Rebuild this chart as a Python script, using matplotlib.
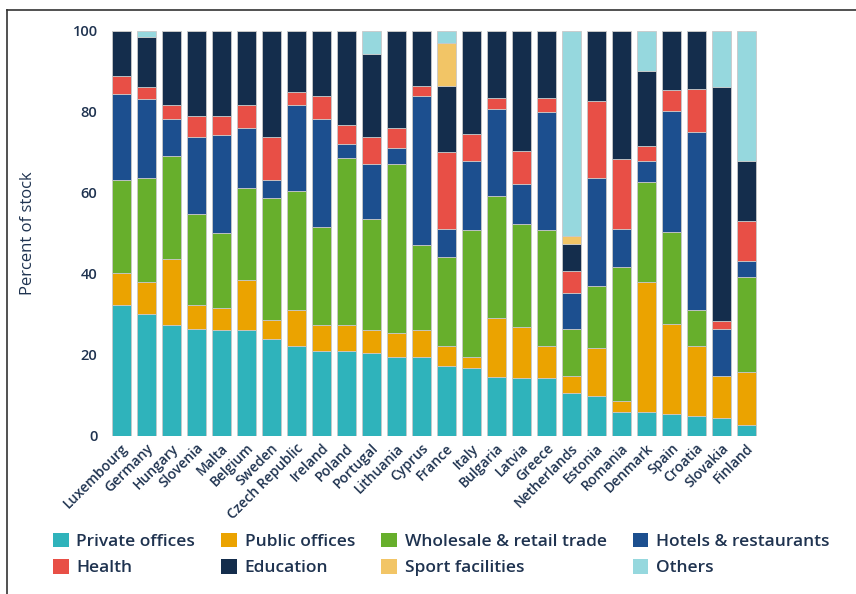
import numpy as np
import matplotlib
matplotlib.use("Agg")
import matplotlib.pyplot as plt
from matplotlib.patches import Patch
from matplotlib.lines import Line2D

plt.rcParams['font.family'] = ['Open Sans', 'DejaVu Sans']
plt.rcParams['font.weight'] = 'semibold'

countries = ['Luxembourg', 'Germany', 'Hungary', 'Slovenia', 'Malta', 'Belgium', 'Sweden',
             'Czech Republic', 'Ireland', 'Poland', 'Portugal', 'Lithuania', 'Cyprus', 'France',
             'Italy', 'Bulgaria', 'Latvia', 'Greece', 'Netherlands', 'Estonia', 'Romania',
             'Denmark', 'Spain', 'Croatia', 'Slovakia', 'Finland']

private_offices = [32.2, 29.9, 27.4, 26.4, 26.0, 26.0, 23.9, 22.1, 20.8, 20.8, 20.3, 19.3, 19.3,
                   17.1, 16.7, 14.5, 14.1, 14.1, 10.6, 9.8, 5.7, 5.7, 5.2, 4.9, 4.4, 2.6]
public_offices = [8.0, 8.1, 16.3, 5.9, 5.5, 12.5, 4.5, 8.8, 6.6, 6.6, 5.8, 5.9, 6.8,
                  5.0, 2.8, 14.4, 12.8, 8.0, 4.1, 11.8, 2.8, 32.1, 22.3, 17.2, 10.3, 13.1]
wholesale_retail = [22.8, 25.7, 25.3, 22.4, 18.4, 22.7, 30.3, 29.5, 24.2, 41.1, 27.3, 41.8, 21.0,
                    22.0, 31.2, 30.3, 25.2, 28.6, 11.7, 15.4, 33.0, 24.8, 22.8, 8.8, 0.0, 23.5]
hotels_restaurants = [21.3, 19.3, 9.1, 19.0, 24.3, 14.7, 4.3, 21.2, 26.5, 3.4, 13.6, 4.1, 36.8,
                      7.0, 17.1, 21.5, 9.9, 29.1, 8.8, 26.5, 9.6, 5.1, 29.9, 44.1, 11.7, 4.0]
health = [4.5, 3.1, 3.6, 5.2, 4.7, 5.7, 10.6, 3.1, 5.8, 4.8, 6.6, 4.8, 2.5,
          18.9, 6.7, 2.7, 8.2, 3.6, 5.5, 19.0, 17.1, 3.9, 5.0, 10.6, 1.9, 9.8]
education = [11.2, 12.3, 18.3, 21.1, 21.1, 18.4, 26.4, 15.3, 16.1, 23.3, 20.5, 24.1, 13.6,
             16.4, 25.5, 16.6, 29.8, 16.6, 6.6, 17.5, 31.8, 18.5, 14.8, 14.4, 57.8, 14.7]
sport_facilities = [0, 0, 0, 0, 0, 0, 0, 0, 0, 0, 0, 0, 0,
                    10.6, 0, 0, 0, 0, 2.0, 0, 0, 0, 0, 0, 0, 0]
others = [0, 1.6, 0, 0, 0, 0, 0, 0, 0, 0, 5.9, 0, 0,
          3.0, 0, 0, 0, 0, 50.7, 0, 0, 9.9, 0, 0, 13.9, 32.3]

series = [
    ("Private offices", private_offices, "#2fb3bb"),
    ("Public offices", public_offices, "#eba300"),
    ("Wholesale & retail trade", wholesale_retail, "#67af2c"),
    ("Hotels & restaurants", hotels_restaurants, "#1c4f8f"),
    ("Health", health, "#e84f46"),
    ("Education", education, "#142d4c"),
    ("Sport facilities", sport_facilities, "#f2c566"),
    ("Others", others, "#96d8de"),
]

text_col = "#1f3350"

fig = plt.figure(figsize=(8.56, 5.94), dpi=100)
ax = fig.add_axes([108.7 / 856, 158.5 / 594, 650 / 856, 405 / 594])

x = np.arange(len(countries))
bottom = np.zeros(len(countries))
for name, vals, col in series:
    vals = np.array(vals)
    ax.bar(x, vals, bottom=bottom, width=0.76, color=col, edgecolor="#c8c8c8",
           linewidth=0.6, label=name)
    bottom += vals

ax.set_xlim(-0.5, len(countries) - 0.5)
ax.set_ylim(0, 100)
ax.set_yticks([0, 20, 40, 60, 80, 100])
ax.set_xticks(x)
ax.set_xticklabels(countries, rotation=45, ha="right", rotation_mode="anchor",
                   fontsize=10, color=text_col)
ax.tick_params(axis="both", length=0, colors=text_col)
ax.tick_params(axis="y", labelsize=10.5, pad=8)
ax.tick_params(axis="x", pad=4)
for s in ax.spines.values():
    s.set_visible(False)
ax.set_ylabel("Percent of stock", fontsize=12, color=text_col, labelpad=26)

# legend in the reference's row order
handles = {name: Patch(facecolor=col, edgecolor="none") for name, _, col in series}
order = ["Private offices", "Health", "Public offices", "Education",
         "Wholesale & retail trade", "Sport facilities", "Hotels & restaurants", "Others"]
fig.legend([handles[n] for n in order], order, ncol=4, frameon=False,
           loc="center left", bbox_to_anchor=(53 / 856, 1 - 554.5 / 594),
           borderpad=0, borderaxespad=0,
           fontsize=12.5, labelcolor=text_col, handlelength=0.9, handleheight=0.9,
           handletextpad=0.45, columnspacing=1.5, labelspacing=0.55)

# frame around the figure
fig.add_artist(Line2D([7 / 856, 7 / 856], [0, 1 - 10 / 594], color="#333333", lw=1.2))
fig.add_artist(Line2D([7 / 856, 1], [1 - 10 / 594, 1 - 10 / 594], color="#333333", lw=1.2))

fig.savefig("out.png", dpi=100)
